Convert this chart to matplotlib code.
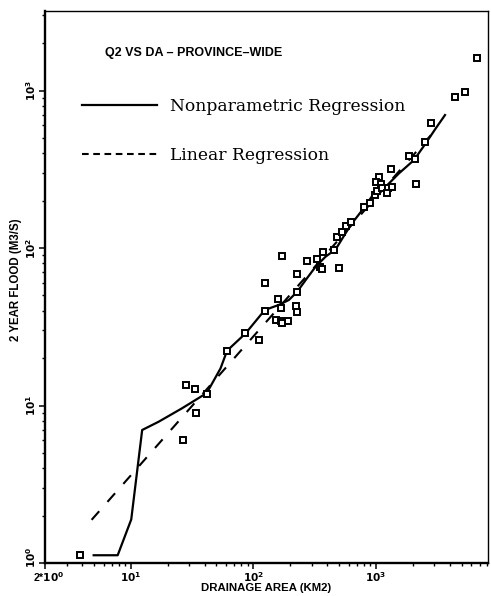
import matplotlib
matplotlib.use("Agg")
import matplotlib.pyplot as plt
import matplotlib.transforms as mtransforms
from matplotlib.lines import Line2D
from matplotlib.ticker import FixedLocator, FixedFormatter, NullFormatter

# stations: drainage area (km2) and 2 year flood (m3/s)
area = [3.84, 28.5, 33.3, 42.0, 33.8, 26.6, 61.1, 86.0, 110.9, 124.1,
        124.1, 159.1, 166.7, 151.8, 166.7, 171.8, 191.2, 221.0, 225.2, 227.8,
        227.8, 171.8, 274.9, 331.7, 347.0, 364.4, 369.3, 458.4, 483.2, 498.9,
        524.8, 572.4, 628.6, 798.0, 888.6, 981.3, 1025, 1058, 1006, 1105,
        1126, 1260, 1237, 1343, 1318, 1859, 2070, 2109, 2512, 2838,
        4415, 5299, 6637]
q2 = [1.12, 13.5, 12.7, 11.9, 9.0, 6.04, 22.3, 28.7, 26.1, 40.1,
      59.9, 47.5, 41.4, 34.9, 34.6, 33.6, 34.4, 42.8, 39.4, 68.1,
      52.6, 89.0, 83.1, 85.2, 76.1, 73.2, 95.0, 97.1, 117.9, 74.3,
      126.9, 137.9, 146.9, 181.3, 192.2, 217.0, 231.1, 281.1, 263.6, 254.8,
      239.3, 239.3, 222.5, 242.9, 316.0, 383.8, 365.8, 254.8, 473.0, 622.0,
      913.0, 985.0, 1608.0]

# nonparametric regression curve
np_area = [4.99, 7.83, 10.1, 12.4, 16.9, 26.2, 41.7, 54.0, 61.1, 86.4,
           124, 161, 195, 228, 267, 322, 388, 469, 622, 773,
           963, 1200, 1541, 2043, 2545, 3072, 3658]
np_q2 = [1.12, 1.12, 1.89, 6.99, 7.89, 9.60, 12.0, 17.2, 22.3, 28.7,
         40.4, 43.5, 46.8, 52.8, 62.6, 76.1, 88.1, 98.1, 140, 174,
         222, 245, 298, 362, 462, 575, 699]

# linear regression, straight line in log-log
lin_area = [4.8, 2800]
lin_q2 = [1.88, 520]

xticks = [2, 10, 100, 1000]
xlabels = [r"2*$\mathbf{10^{0}}$", r"$\mathbf{10^{1}}$", r"$\mathbf{10^{2}}$", r"$\mathbf{10^{3}}$"]
yticks = [1, 10, 100, 1000]
ylabels = [r"$\mathbf{10^{0}}$", r"$\mathbf{10^{1}}$", r"$\mathbf{10^{2}}$", r"$\mathbf{10^{3}}$"]

sans = ["Liberation Sans", "DejaVu Sans"]

fig = plt.figure(figsize=(4.91, 5.96), dpi=100)
ax = fig.add_axes([45 / 491, 33 / 596, 443 / 491, 552 / 596])

ax.plot(lin_area, lin_q2, color="black", lw=1.5, linestyle=(0, (5.5, 6)))
ax.plot(np_area, np_q2, color="black", lw=1.6)
ax.plot(area, q2, linestyle="none", marker="s", ms=4.2, mfc="white",
        mec="black", mew=1.4)

ax.set_xscale("log")
ax.set_yscale("log")
ax.set_xlim(2, 8200)
ax.set_ylim(1, 3200)

ax.xaxis.set_major_locator(FixedLocator(xticks))
ax.xaxis.set_major_formatter(FixedFormatter(xlabels))
ax.xaxis.set_minor_locator(FixedLocator([3, 4, 5, 6, 7, 8, 9, 20, 30, 40, 50, 60, 70, 80, 90,
                                         200, 300, 400, 500, 600, 700, 800, 900,
                                         2000, 3000, 4000, 5000, 6000, 7000, 8000]))
ax.xaxis.set_minor_formatter(NullFormatter())
ax.yaxis.set_major_locator(FixedLocator(yticks))
ax.yaxis.set_major_formatter(FixedFormatter(ylabels))
ax.yaxis.set_minor_locator(FixedLocator([2, 3, 4, 5, 6, 7, 8, 9, 20, 30, 40, 50, 60, 70, 80, 90,
                                         200, 300, 400, 500, 600, 700, 800, 900, 2000, 3000]))
ax.yaxis.set_minor_formatter(NullFormatter())

ax.tick_params(which="major", direction="out", length=4, width=1.1, labelsize=7.6)
ax.tick_params(axis="x", which="major", pad=1)
ax.tick_params(axis="y", which="major", pad=1)
ax.tick_params(which="minor", direction="out", length=2.5, width=1)
for t in ax.get_yticklabels():
    t.set_rotation(90)
    t.set_va("center")
for t in ax.get_xticklabels() + ax.get_yticklabels():
    t.set_fontweight("bold")
    t.set_family(sans)

for s in ["left", "bottom"]:
    ax.spines[s].set_linewidth(1.7)
for s in ["top", "right"]:
    ax.spines[s].set_linewidth(1.0)

ax.set_xlabel("DRAINAGE AREA (KM2)", fontsize=8.2, fontweight="bold", family=sans, va="center")
ax.xaxis.set_label_coords(0.5, -0.0445)
ax.set_ylabel("2 YEAR FLOOD (M3/S)", fontsize=8.3, fontweight="bold", family=sans)
ax.yaxis.set_label_coords(-0.053, 0.513)

ax.text(0.136, 0.924, "Q2 VS DA – PROVINCE–WIDE", transform=ax.transAxes,
        ha="left", va="center", fontsize=9, fontweight="bold", family=sans)

h1 = Line2D([], [], color="black", lw=1.6)
h2 = Line2D([], [], color="black", lw=1.5, linestyle=(0, (3.2, 2.2)))
ax.legend([h1, h2], ["Nonparametric Regression", "Linear Regression"],
          loc="upper left", bbox_to_anchor=(0.083, 0.842), frameon=False,
          prop={"family": "DejaVu Serif", "size": 12.3}, handlelength=4.4,
          handletextpad=0.75, labelspacing=1.85, borderaxespad=0, borderpad=0)

# corner labels sit a bit apart, like in the original
lab_y0 = ax.yaxis.get_major_ticks()[0].label1
lab_y0.set_transform(lab_y0.get_transform() + mtransforms.ScaledTranslation(0, 4 / 72, fig.dpi_scale_trans))
lab_x0 = ax.xaxis.get_major_ticks()[0].label1
lab_x0.set_transform(lab_x0.get_transform() + mtransforms.ScaledTranslation(3 / 72, 0, fig.dpi_scale_trans))

fig.savefig("out.png", dpi=100)
